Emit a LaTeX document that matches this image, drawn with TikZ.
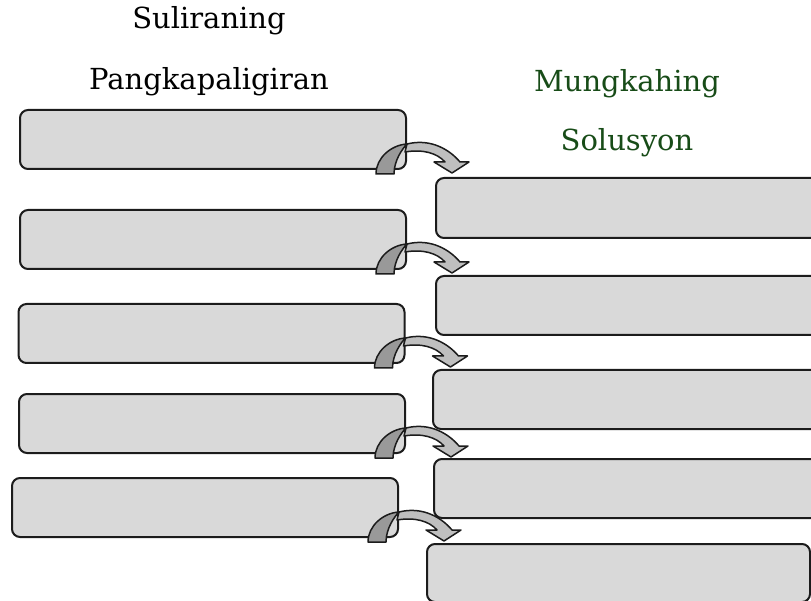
\documentclass[tikz,border=0pt]{standalone}
\usepackage{xcolor}
\usepackage{fontspec}
\setmainfont{DejaVu Serif}
\usepackage{tikz}
\usetikzlibrary{positioning}
\definecolor{Pane}{HTML}{D9D9D9}
\definecolor{Edge}{HTML}{1C1C1C}
\colorlet{ArrDark}{black!40}
\colorlet{ArrLight}{black!25}
\definecolor{Leaf}{RGB}{24,76,24}
\tikzset{
  pane/.style={draw=Edge, fill=Pane, line width=2pt, rounded corners=8pt,
    minimum width=386pt, minimum height=59pt, inner sep=0pt},
  wide/.style={minimum width=394pt},
  heading/.style={anchor=base, inner sep=0pt, font=\fontsize{29pt}{34pt}\selectfont},
  curlarrow/.style={draw=Edge, line width=1.5pt, line join=round}
}
% curved block arrow hung on the lower right corner of a box
\newcommand{\bendarrow}[1]{%
  \begin{scope}[shift={(#1.south east)}]
    \path[curlarrow, fill=ArrLight] (0,-26) .. controls (24,-32) and (43,-20) .. (53,-8)
      -- (62,-8) -- (45,3) -- (27,-8) -- (38,-8)
      .. controls (30,-17) and (16,-21) .. (-2,-18) -- cycle;
    \path[curlarrow, fill=ArrDark] (-31,4) .. controls (-31,-12) and (-16,-25) .. (0,-26)
      .. controls (-4,-22) and (-13,-10) .. (-13,4) -- cycle;
  \end{scope}}

\begin{document}
\begin{tikzpicture}[x=1pt, y=-1pt]
        \useasboundingbox (0,0) rectangle (811,601);
        \clip (0,0) rectangle (811,601);

        % headings
        \node[heading] (hdProb) at (209,29) {Suliraning};
        \node[heading] (hdProbB) at (209,90) {Pangkapaligiran};
        \node[heading, text=Leaf] (hdSol) at (627,92) {Mungkahing};
        \node[heading, text=Leaf] (hdSolB) at (627,151) {Solusyon};

        % problem boxes
        \node[pane] (L1) at (213,139.5) {};
        \node[pane, below=39pt of L1] (L2) {};
        \node[pane, below=33pt of L2, xshift=-1.5pt] (L3) {};
        \node[pane, below=29pt of L3, xshift=0.5pt] (L4) {};
        \node[pane, below=23pt of L4, xshift=-7pt] (L5) {};

        % solution boxes
        \node[pane, wide, minimum height=60pt] (R1) at (633,208) {};
        \node[pane, wide, below=36pt of R1] (R2) {};
        \node[pane, wide, below=33pt of R2, xshift=-3pt] (R3) {};
        \node[pane, wide, below=28pt of R3, xshift=1pt] (R4) {};
        \node[pane, minimum width=383pt, minimum height=58pt, below=24pt of R4, xshift=-12.5pt] (R5) {};

        % arrows
        \foreach \i in {1,...,5} {\bendarrow{L\i}}
\end{tikzpicture}
\end{document}
